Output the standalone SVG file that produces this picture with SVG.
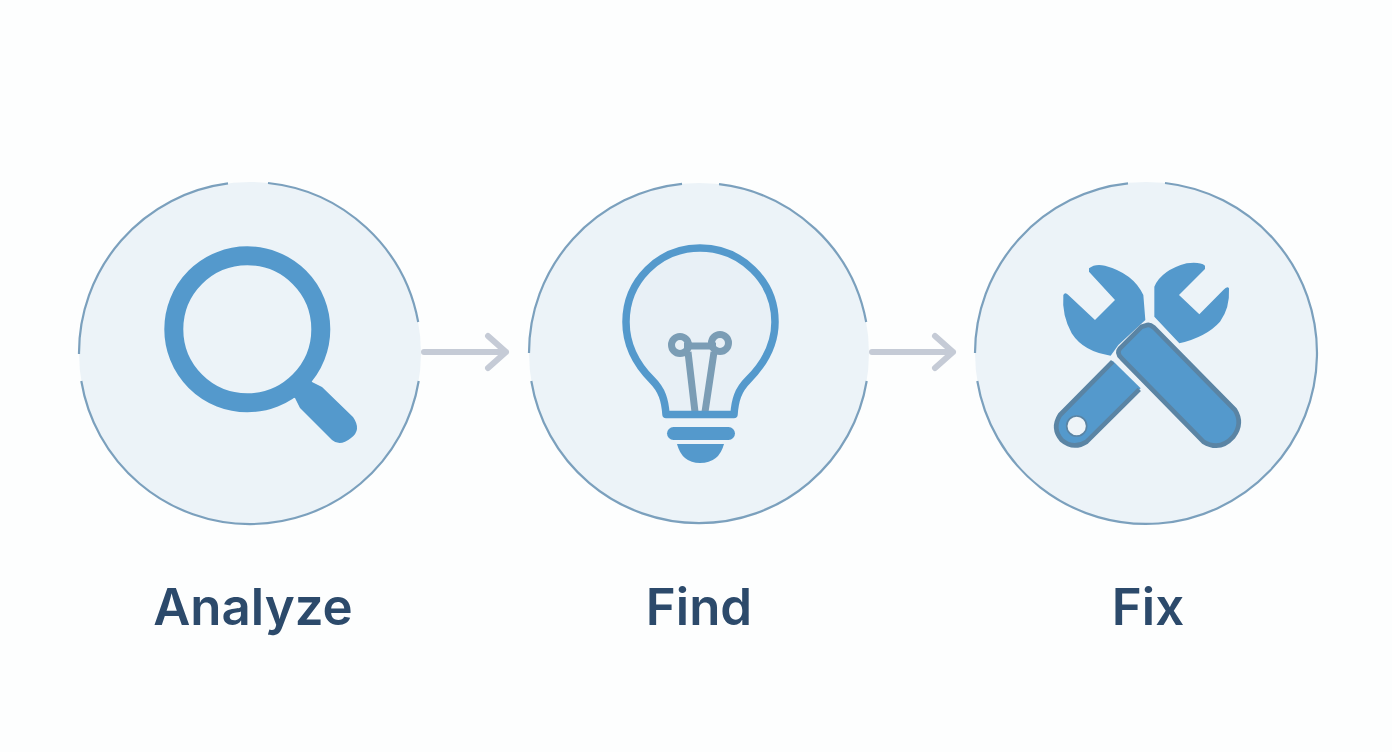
<svg xmlns="http://www.w3.org/2000/svg" width="1392" height="752" viewBox="0 0 1392 752">
<style>
.disc{fill:#ecf3f8}
.rim{fill:none;stroke:#7ba0bd;stroke-width:2.2}
.ink{fill:#5499cc}
.line{fill:none;stroke:#5499cc}
.fil{fill:none;stroke:#7b9db5}
.edge{fill:none;stroke:#5a84a4;stroke-width:14;stroke-linejoin:round}
.arrow{fill:none;stroke:#c5cbd6;stroke-width:6;stroke-linecap:round;stroke-linejoin:round}
.label{font-family:Inter,"Liberation Sans",sans-serif;font-size:51px;font-weight:600;fill:#2c4a6b;text-anchor:middle}
</style>
<rect width="1392" height="752" fill="#fdfefe"/>
<g id="connectors">
<path class="arrow" d="M424 352H506M488 336L506 352L488 368"/>
<path class="arrow" d="M872 352H953M935 336L953 352L935 368"/>
</g>
<g id="node-analyze">
<circle class="disc" cx="250" cy="353" r="171"/>
<path class="rim" d="M268 183A171 171 0 0 1 418.200 322M418.700 381A171 171 0 0 1 81.300 381M79 354A171 171 0 0 1 228 183.400"/>
<circle cx="247.300" cy="329.300" r="73.500" fill="none" stroke="#5499cc" stroke-width="19"/>
<path class="ink" d="M308 376L312 382L322 387L353 417Q362 430 351 438Q340 447 332 440L300 408L295 398L288 396Z"/>
<text class="label" x="253" y="625">Analyze</text>
</g>
<g id="node-find">
<circle class="disc" cx="699" cy="353" r="170"/>
<path class="rim" d="M719 184.200A170 170 0 0 1 866.200 322M866.700 381A170 170 0 0 1 531.300 381M529 353A170 170 0 0 1 682 183.900"/>
<path d="M666 414.500C665 400 662 390 652 380C640 368 626 348 626 322C626 281 659 248 700 248C741 248 775 281 775 322C775 348 760 368 748 380C738 390 735 400 734 414.500Z" fill="#e8f0f6"/>
<path class="fil" stroke-width="7" d="M688 352L695 412M714 352L705 412M684 346H716"/>
<circle class="fil" cx="680" cy="345" r="8.500" stroke-width="7"/>
<circle class="fil" cx="720" cy="343" r="8.500" stroke-width="7"/>
<path class="line" stroke-width="7.500" stroke-linejoin="round" d="M666 414.500C665 400 662 390 652 380C640 368 626 348 626 322C626 281 659 248 700 248C741 248 775 281 775 322C775 348 760 368 748 380C738 390 735 400 734 414.500Z"/>
<rect class="ink" x="667" y="427" width="68" height="13" rx="6.500"/>
<path class="ink" d="M677 444H724Q719 463 700 463Q682 463 677 444Z"/>
<text class="label" x="699" y="625">Find</text>
</g>
<g id="node-fix">
<circle class="disc" cx="1146" cy="353" r="171"/>
<path class="rim" d="M1165 183A171 171 0 1 1 977.300 381M975 353A171 171 0 0 1 1128 183.400"/>
<g transform="translate(1040 245) scale(0.33333)">
<path class="ink" d="M147 70Q165 55 195 62Q280 85 310 150L316 225L235 300L212 332Q130 320 95 265Q65 210 70 150Q75 140 85 150L165 225L225 165L147 80Z"/>
<path class="ink" d="M495 62Q480 50 440 55Q365 75 343 125L343 215L418 295Q500 275 540 230Q570 190 567 130Q562 122 550 135L478 208L417 150L495 72Z"/>
<path class="ink" d="M218 347L302 430L140 590Q100 615 65 585Q35 550 60 510Z"/>
<path class="edge" d="M218 350L60 510Q35 550 65 585Q100 615 140 590L298 433"/>
<circle cx="110" cy="543" r="30" fill="#eef4f8" stroke="#5a84a4" stroke-width="5"/>
<path class="edge" style="fill:#5499cc" d="M322 240Q330 238 342 248L585 495Q610 535 580 575Q540 620 490 590L245 340Q228 325 240 310L305 245Z"/>
</g>
<text class="label" x="1148" y="625">Fix</text>
</g>
</svg>
